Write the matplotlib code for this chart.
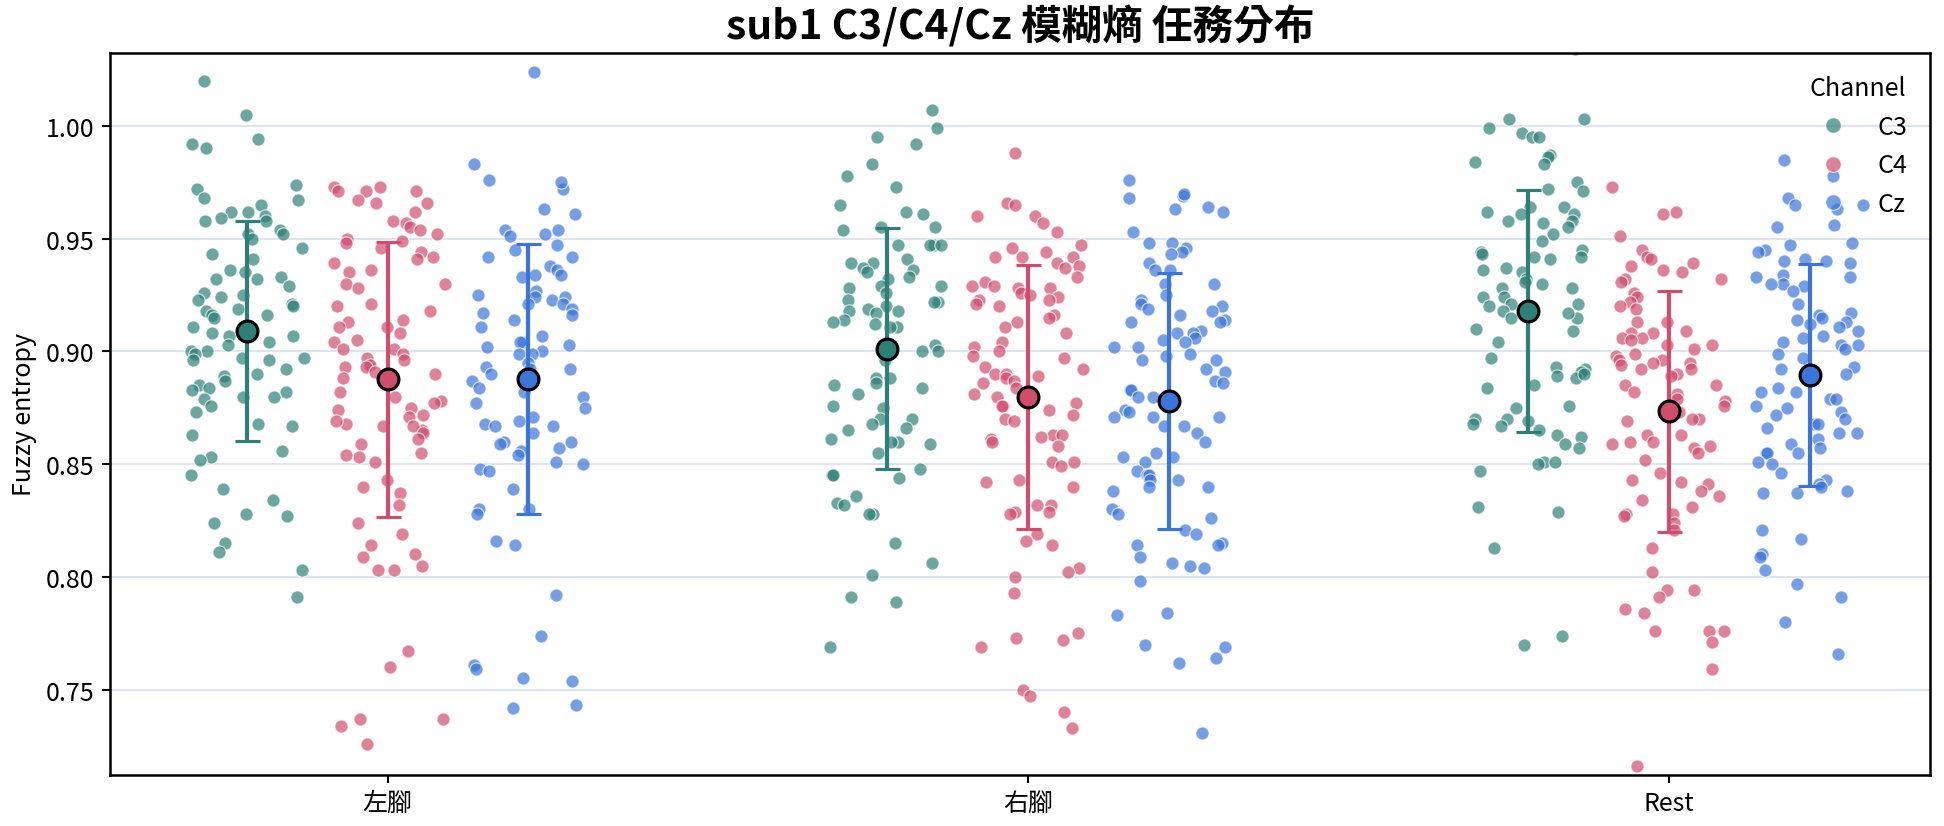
import numpy as np
import matplotlib
matplotlib.use("Agg")
import matplotlib.pyplot as plt
from matplotlib.lines import Line2D

plt.rcParams['font.family'] = ['Noto Sans CJK TC', 'DejaVu Sans']

# --- data (fuzzy entropy per trial) ---
tasks = ["左腳", "右腳", "Rest"]
channels = ["C3", "C4", "Cz"]
colors = {"C3": "#2d8076", "C4": "#d04d6e", "Cz": "#3b75d9"}

left_c3 = [1.020, 1.005, 0.994, 0.992, 0.990, 0.974, 0.972, 0.968, 0.967, 0.965,
           0.962, 0.962, 0.960, 0.959, 0.958, 0.954, 0.958, 0.952, 0.952, 0.950,
           0.946, 0.943, 0.941, 0.935, 0.936, 0.932, 0.932, 0.933, 0.929, 0.926,
           0.925, 0.924, 0.923, 0.921, 0.919, 0.918, 0.916, 0.916, 0.920, 0.915,
           0.911, 0.908, 0.907, 0.908, 0.907, 0.904, 0.903, 0.900, 0.900, 0.897,
           0.897, 0.896, 0.899, 0.896, 0.892, 0.890, 0.889, 0.887, 0.885, 0.884,
           0.883, 0.882, 0.880, 0.879, 0.880, 0.876, 0.873, 0.868, 0.867, 0.863,
           0.856, 0.853, 0.852, 0.845, 0.839, 0.834, 0.828, 0.827, 0.824, 0.815,
           0.811, 0.803, 0.791]
left_c4 = [0.894, 0.973, 0.971, 0.971, 0.973, 0.971, 0.966, 0.967, 0.966, 0.962,
           0.958, 0.957, 0.955, 0.954, 0.952, 0.950, 0.949, 0.948, 0.946, 0.944,
           0.942, 0.941, 0.939, 0.936, 0.935, 0.930, 0.930, 0.928, 0.921, 0.920,
           0.918, 0.914, 0.913, 0.911, 0.911, 0.908, 0.905, 0.904, 0.901, 0.901,
           0.899, 0.897, 0.896, 0.894, 0.893, 0.893, 0.891, 0.890, 0.888, 0.882,
           0.880, 0.878, 0.877, 0.875, 0.874, 0.872, 0.871, 0.868, 0.867, 0.869,
           0.865, 0.867, 0.864, 0.861, 0.859, 0.855, 0.853, 0.854, 0.851, 0.843,
           0.840, 0.837, 0.832, 0.824, 0.819, 0.814, 0.810, 0.809, 0.805, 0.803,
           0.803, 0.767, 0.760, 0.737, 0.737, 0.734, 0.726]
left_cz = [1.024, 0.983, 0.976, 0.972, 0.975, 0.963, 0.961, 0.954, 0.954, 0.952,
           0.951, 0.947, 0.945, 0.942, 0.942, 0.938, 0.936, 0.934, 0.934, 0.933,
           0.927, 0.925, 0.924, 0.924, 0.923, 0.921, 0.921, 0.919, 0.917, 0.916,
           0.914, 0.911, 0.907, 0.904, 0.904, 0.903, 0.902, 0.900, 0.899, 0.899,
           0.895, 0.893, 0.892, 0.892, 0.890, 0.887, 0.884, 0.882, 0.880, 0.877,
           0.875, 0.871, 0.868, 0.869, 0.867, 0.867, 0.864, 0.860, 0.859, 0.860,
           0.857, 0.856, 0.854, 0.851, 0.850, 0.848, 0.847, 0.839, 0.830, 0.830,
           0.828, 0.816, 0.814, 0.792, 0.774, 0.761, 0.759, 0.755, 0.754, 0.743,
           0.742]

right_c3 = [1.007, 0.999, 0.995, 0.992, 0.983, 0.978, 0.973, 0.965, 0.962, 0.961,
            0.955, 0.955, 0.954, 0.947, 0.947, 0.947, 0.947, 0.941, 0.939, 0.939,
            0.937, 0.936, 0.935, 0.933, 0.932, 0.929, 0.929, 0.928, 0.926, 0.923,
            0.922, 0.920, 0.919, 0.918, 0.918, 0.917, 0.914, 0.913, 0.912, 0.911,
            0.911, 0.922, 0.903, 0.900, 0.900, 0.896, 0.888, 0.888, 0.886, 0.885,
            0.884, 0.881, 0.876, 0.875, 0.870, 0.870, 0.868, 0.866, 0.865, 0.861,
            0.860, 0.860, 0.859, 0.855, 0.848, 0.845, 0.845, 0.844, 0.836, 0.833,
            0.832, 0.828, 0.828, 0.815, 0.806, 0.801, 0.791, 0.789, 0.769]
right_c4 = [0.988, 0.966, 0.965, 0.960, 0.960, 0.957, 0.953, 0.947, 0.946, 0.944,
            0.942, 0.942, 0.942, 0.939, 0.938, 0.937, 0.933, 0.931, 0.929, 0.929,
            0.928, 0.928, 0.926, 0.925, 0.924, 0.923, 0.923, 0.921, 0.920, 0.916,
            0.915, 0.913, 0.911, 0.908, 0.904, 0.902, 0.900, 0.898, 0.897, 0.893,
            0.892, 0.890, 0.890, 0.889, 0.888, 0.887, 0.886, 0.884, 0.881, 0.880,
            0.877, 0.876, 0.876, 0.874, 0.872, 0.870, 0.869, 0.863, 0.863, 0.862,
            0.861, 0.860, 0.858, 0.851, 0.851, 0.849, 0.843, 0.842, 0.840, 0.832,
            0.832, 0.829, 0.829, 0.828, 0.819, 0.816, 0.814, 0.804, 0.802, 0.800,
            0.793, 0.775, 0.773, 0.772, 0.769, 0.750, 0.747, 0.740, 0.733]
right_cz = [0.976, 0.969, 0.970, 0.968, 0.964, 0.963, 0.962, 0.953, 0.948, 0.948,
            0.946, 0.944, 0.943, 0.939, 0.936, 0.936, 0.930, 0.930, 0.925, 0.923,
            0.921, 0.920, 0.919, 0.918, 0.916, 0.914, 0.913, 0.913, 0.909, 0.908,
            0.908, 0.906, 0.905, 0.904, 0.902, 0.902, 0.899, 0.898, 0.896, 0.896,
            0.892, 0.891, 0.887, 0.886, 0.883, 0.883, 0.880, 0.880, 0.874, 0.873,
            0.871, 0.871, 0.871, 0.867, 0.867, 0.864, 0.860, 0.855, 0.853, 0.853,
            0.851, 0.847, 0.845, 0.845, 0.843, 0.843, 0.840, 0.840, 0.838, 0.830,
            0.828, 0.826, 0.821, 0.819, 0.815, 0.814, 0.814, 0.809, 0.806, 0.805,
            0.804, 0.798, 0.784, 0.783, 0.770, 0.769, 0.764, 0.762, 0.731]

rest_c3 = [1.034, 1.003, 1.003, 0.997, 0.999, 0.995, 0.995, 0.987, 0.986, 0.984,
           0.983, 0.975, 0.972, 0.971, 0.964, 0.964, 0.962, 0.961, 0.961, 0.958,
           0.958, 0.957, 0.955, 0.952, 0.949, 0.945, 0.944, 0.943, 0.942, 0.942,
           0.941, 0.937, 0.936, 0.935, 0.932, 0.931, 0.930, 0.928, 0.928, 0.924,
           0.924, 0.921, 0.921, 0.920, 0.918, 0.915, 0.915, 0.917, 0.910, 0.909,
           0.904, 0.897, 0.893, 0.892, 0.891, 0.889, 0.888, 0.890, 0.885, 0.884,
           0.876, 0.875, 0.870, 0.869, 0.870, 0.868, 0.867, 0.865, 0.863, 0.862,
           0.859, 0.857, 0.851, 0.851, 0.850, 0.847, 0.831, 0.829, 0.813, 0.774,
           0.770]
rest_c4 = [0.973, 0.962, 0.961, 0.951, 0.945, 0.942, 0.941, 0.939, 0.938, 0.936,
           0.935, 0.932, 0.932, 0.931, 0.926, 0.924, 0.922, 0.920, 0.919, 0.913,
           0.913, 0.909, 0.908, 0.908, 0.906, 0.906, 0.905, 0.903, 0.903, 0.901,
           0.899, 0.898, 0.896, 0.896, 0.895, 0.895, 0.894, 0.892, 0.892, 0.890,
           0.889, 0.885, 0.885, 0.882, 0.881, 0.879, 0.878, 0.876, 0.873, 0.870,
           0.870, 0.869, 0.863, 0.863, 0.860, 0.860, 0.859, 0.858, 0.857, 0.855,
           0.852, 0.846, 0.843, 0.842, 0.841, 0.838, 0.836, 0.834, 0.831, 0.828,
           0.828, 0.827, 0.824, 0.821, 0.813, 0.802, 0.794, 0.794, 0.791, 0.786,
           0.784, 0.776, 0.776, 0.776, 0.771, 0.759, 0.716]
rest_cz = [0.985, 0.978, 0.968, 0.965, 0.965, 0.963, 0.956, 0.955, 0.948, 0.947,
           0.945, 0.944, 0.941, 0.940, 0.940, 0.939, 0.934, 0.933, 0.933, 0.930,
           0.930, 0.929, 0.927, 0.921, 0.917, 0.916, 0.915, 0.914, 0.913, 0.912,
           0.911, 0.909, 0.907, 0.906, 0.904, 0.903, 0.903, 0.901, 0.899, 0.897,
           0.893, 0.892, 0.890, 0.890, 0.884, 0.882, 0.882, 0.879, 0.879, 0.876,
           0.875, 0.873, 0.872, 0.868, 0.870, 0.868, 0.866, 0.864, 0.864, 0.861,
           0.859, 0.857, 0.855, 0.855, 0.855, 0.851, 0.850, 0.846, 0.843, 0.841,
           0.840, 0.838, 0.837, 0.837, 0.821, 0.817, 0.810, 0.809, 0.803, 0.797,
           0.791, 0.780, 0.766]

values = {
    ("左腳", "C3"): left_c3, ("左腳", "C4"): left_c4, ("左腳", "Cz"): left_cz,
    ("右腳", "C3"): right_c3, ("右腳", "C4"): right_c4, ("右腳", "Cz"): right_cz,
    ("Rest", "C3"): rest_c3, ("Rest", "C4"): rest_c4, ("Rest", "Cz"): rest_cz,
}

# --- layout ---
DODGE = 0.22     # hue offset from category center
JITTER = 0.09    # strip jitter half-width
rng = np.random.default_rng(11)

fig = plt.figure(figsize=(12.96, 5.513), dpi=150)
ax = fig.add_axes([0.0566, 0.0620, 0.9362, 0.8727])

for i, task in enumerate(tasks):
    for j, ch in enumerate(channels):
        y = np.asarray(values[(task, ch)])
        xc = i + (j - 1) * DODGE
        xs = xc + rng.uniform(-JITTER, JITTER, size=len(y))
        ax.scatter(xs, y, s=40, color=colors[ch], alpha=0.7,
                   edgecolor="white", linewidth=0.6, zorder=2)
        m, sd = y.mean(), y.std(ddof=1)
        ax.errorbar(xc, m, yerr=sd, fmt="none", ecolor=colors[ch],
                    elinewidth=2.0, capsize=6, capthick=1.5, zorder=3)
        ax.plot(xc, m, "o", ms=10, mfc=colors[ch], mec="black", mew=1.5, zorder=4)

ax.set_xlim(-0.433, 2.407)
ax.set_ylim(0.7123, 1.0323)
ax.set_xticks(range(len(tasks)))
ax.set_xticklabels(tasks)
ax.set_yticks([0.75, 0.80, 0.85, 0.90, 0.95, 1.00])
ax.tick_params(labelsize=12, width=1, length=4)
ax.yaxis.grid(True, color="#dce5ee", linewidth=1)
ax.set_axisbelow(True)
for sp in ax.spines.values():
    sp.set_linewidth(1.2)

ax.set_ylabel("Fuzzy entropy", fontsize=12)
ax.set_title("sub1 C3/C4/Cz 模糊熵 任務分布", fontsize=19.5, fontweight="bold", pad=7)

handles = [Line2D([], [], linestyle="none", marker="o", markersize=7.5,
                  markerfacecolor=colors[ch], markeredgecolor="white",
                  markeredgewidth=0.6, alpha=0.7, label=ch) for ch in channels]
ax.legend(handles=handles, title="Channel", loc="upper right", frameon=False,
          fontsize=12, title_fontsize=12)

fig.savefig("out.png", dpi=150)
